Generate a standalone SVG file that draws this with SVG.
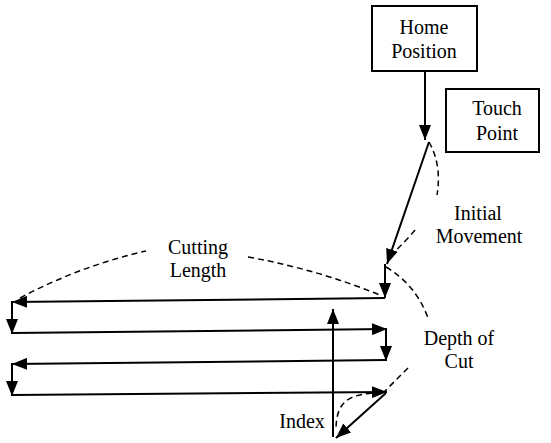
<svg xmlns="http://www.w3.org/2000/svg" width="551" height="443" viewBox="0 0 551 443">
<defs>
<marker id="ah" markerUnits="userSpaceOnUse" markerWidth="16" markerHeight="12" refX="15" refY="6" orient="auto">
<path d="M0,0 L15,6 L0,12 z" fill="#000"/>
</marker>
<style>
.box{fill:#fff;stroke:#000;stroke-width:2}
.t{font-family:"Liberation Serif","Times New Roman",serif;font-size:20px;fill:#000;text-anchor:middle}
.s{fill:none;stroke:#000;stroke-width:2}
.a{marker-end:url(#ah)}
.d{fill:none;stroke:#000;stroke-width:1.5;stroke-dasharray:6 4}
</style>
</defs>
<rect width="551" height="443" fill="#fff"/>
<g id="home">
<rect class="box" x="372" y="6" width="105" height="65"/>
<text class="t" x="424" y="34">Home</text>
<text class="t" x="424" y="58">Position</text>
</g>
<g id="touch">
<rect class="box" x="446" y="89" width="93" height="63"/>
<text class="t" x="497" y="115">Touch</text>
<text class="t" x="497" y="140">Point</text>
</g>
<g id="labels">
<text class="t" x="198" y="254">Cutting</text>
<text class="t" x="198" y="277">Length</text>
<text class="t" x="478" y="220">Initial</text>
<text class="t" x="479" y="243">Movement</text>
<text class="t" x="459" y="345">Depth of</text>
<text class="t" x="459" y="368">Cut</text>
<text class="t" x="302" y="428">Index</text>
</g>
<g id="connectors">
<path class="s a" d="M425,71 V140"/>
<path class="s a" d="M429,142 L387,264"/>
<path class="s a" d="M385,264 V298"/>
<path class="s a" d="M385,298 L12,302"/>
<path class="s a" d="M12,301 V334"/>
<path class="s a" d="M12,333 L387,329"/>
<path class="s a" d="M386,328 V361"/>
<path class="s a" d="M386,360 L12,364"/>
<path class="s a" d="M12,363 V396"/>
<path class="s a" d="M12,395 L387,392"/>
<path class="s a" d="M386,393 L336,438"/>
<path class="s a" d="M333,437 V309"/>
<path class="d" d="M429,142 Q442,165 437,195"/>
<path class="d" d="M390,256 Q405,242 416,229"/>
<path class="d" d="M20,298 Q80,266 146,251"/>
<path class="d" d="M248,257 Q320,270 382,296"/>
<path class="d" d="M386,267 Q416,285 428,318"/>
<path class="d" d="M408,368 L384,392"/>
<path class="d" d="M382,393 C350,393 336,400 336,430"/>
</g>
</svg>
